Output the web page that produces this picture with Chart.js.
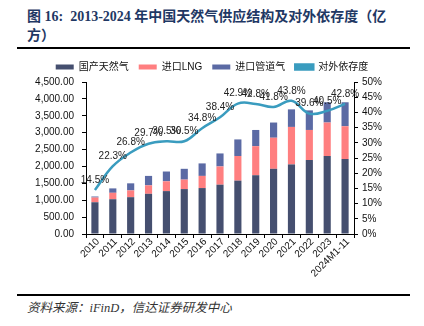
<!DOCTYPE html>
<html>
<head>
<meta charset="utf-8">
<script src="https://cdn.jsdelivr.net/npm/chart.js@4.4.1/dist/chart.umd.min.js"></script>
<style>
  html, body { margin: 0; padding: 0; background: #fff; }
  body { width: 424px; height: 326px; position: relative; overflow: hidden; }
  #title {
    position: absolute; left: 27px; top: 7px; width: 390px;
    font-family: "Liberation Serif", "Noto Sans CJK SC", serif;
    font-weight: bold; font-size: 14px; line-height: 19px; color: #1f3864;
  }
  .rule { position: absolute; left: 17px; width: 393px; height: 2px; background: #000; }
  #source {
    position: absolute; left: 27px; top: 297px;
    font-family: "Liberation Serif", "Noto Sans CJK SC", serif;
    font-style: italic; font-size: 12.5px; color: #333;
  }
  #wrap { position: absolute; left: 0; top: 52px; width: 424px; height: 240px; }
</style>
</head>
<body>
<div id="title">图 16:&nbsp; 2013-2024 年中国天然气供应结构及对外依存度（亿<br>方）</div>
<div class="rule" style="top:47px"></div>
<div id="wrap"><canvas id="chart"></canvas></div>
<div class="rule" style="top:294px"></div>
<div id="source">资料来源：iFinD，信达证券研发中心</div>
<script>
// --- Dados ---
const years = ['2010', '2011', '2012', '2013', '2014', '2015', '2016', '2017',
  '2018', '2019', '2020', '2021', '2022', '2023', '2024M1-11'];
const domestic = [940, 1030, 1090, 1190, 1270, 1330, 1360, 1460, 1580, 1740, 1930, 2060, 2190, 2310, 2220];
const lngImport = [140, 190, 200, 250, 290, 280, 360, 540, 730, 860, 920, 1110, 890, 990, 970];
const pipeImport = [30, 130, 210, 280, 290, 320, 370, 385, 490, 480, 450, 520, 580, 600, 710];
const dependence = [14.5, 22.3, 26.8, 29.7, 30.5, 30.5, 34.8, 38.4, 42.9, 42.8, 41.8, 43.8, 39.6, 40.5, 42.8];

const tickFont = { family: '"Liberation Sans", Arial, sans-serif', size: 10 };

// rótulos de percentagem sobre a linha + rótulos do eixo x a 45°
const extraLabels = {
  id: 'extraLabels',
  afterDatasetsDraw(chart) {
    const ctx = chart.ctx;
    const meta = chart.getDatasetMeta(3);
    ctx.save();
    ctx.font = '10px "Liberation Sans", Arial, sans-serif';
    ctx.fillStyle = '#222';
    ctx.textAlign = 'center';
    ctx.textBaseline = 'bottom';
    meta.data.forEach((pt, i) => {
      ctx.fillText(dependence[i].toFixed(1) + '%', pt.x, pt.y - 5);
    });

    const xs = chart.scales.x;
    const bottom = chart.chartArea.bottom;
    ctx.fillStyle = '#111';
    ctx.textAlign = 'right';
    ctx.textBaseline = 'middle';
    years.forEach((lab, i) => {
      const x = xs.getPixelForValue(i);
      ctx.save();
      ctx.translate(x + 3, bottom + 6);
      ctx.rotate(-Math.PI / 4);
      ctx.fillText(lab, 0, 0);
      ctx.restore();
    });
    ctx.restore();
  }
};

new Chart(document.getElementById('chart'), {
  type: 'bar',
  data: {
    labels: years,
    datasets: [
      { label: '国产天然气', data: domestic, backgroundColor: '#454f6f', stack: 's', order: 1 },
      { label: '进口LNG', data: lngImport, backgroundColor: '#ff7f80', stack: 's', order: 1 },
      { label: '进口管道气', data: pipeImport, backgroundColor: '#5b6aa4', stack: 's', order: 1 },
      {
        label: '对外依存度', data: dependence, type: 'line', yAxisID: 'y1', order: 0,
        borderColor: '#3a9cbf', backgroundColor: '#3a9cbf', borderWidth: 2.5,
        pointRadius: 0, tension: 0.4
      }
    ]
  },
  options: {
    responsive: true,
    maintainAspectRatio: false,
    animation: false,
    layout: { padding: { left: 0, right: 0, top: 0, bottom: 0 } },
    datasets: { bar: { barPercentage: 0.4, categoryPercentage: 1 } },
    plugins: {
      legend: {
        position: 'top',
        labels: {
          font: { family: '"Liberation Sans", "Noto Sans CJK SC", sans-serif', size: 10 },
          color: '#111', boxWidth: 18, boxHeight: 5, padding: 10,
          sort: (a, b) => a.datasetIndex - b.datasetIndex
        }
      },
      tooltip: { enabled: false }
    },
    scales: {
      x: {
        stacked: true,
        grid: { drawOnChartArea: false, color: '#000', tickLength: 4, offset: true },
        border: { color: '#000' },
        ticks: { display: false, autoSkip: false },
        afterFit(s) { s.height = 58; }
      },
      y: {
        stacked: true, min: 0, max: 4500,
        grid: { drawOnChartArea: false, color: '#000', tickLength: 4 },
        border: { color: '#000' },
        ticks: {
          font: tickFont, color: '#111', stepSize: 500, padding: 8,
          callback: v => v.toLocaleString('en-US', { minimumFractionDigits: 2, maximumFractionDigits: 2 })
        },
        afterFit(s) { s.width = 86; }
      },
      y1: {
        position: 'right', min: 0, max: 50,
        grid: { drawOnChartArea: false, color: '#000', tickLength: 4 },
        border: { color: '#000' },
        ticks: { font: tickFont, color: '#111', stepSize: 5, padding: 4, callback: v => v + '%' },
        afterFit(s) { s.width = 70; }
      }
    }
  },
  plugins: [extraLabels]
});
</script>
</body>
</html>
